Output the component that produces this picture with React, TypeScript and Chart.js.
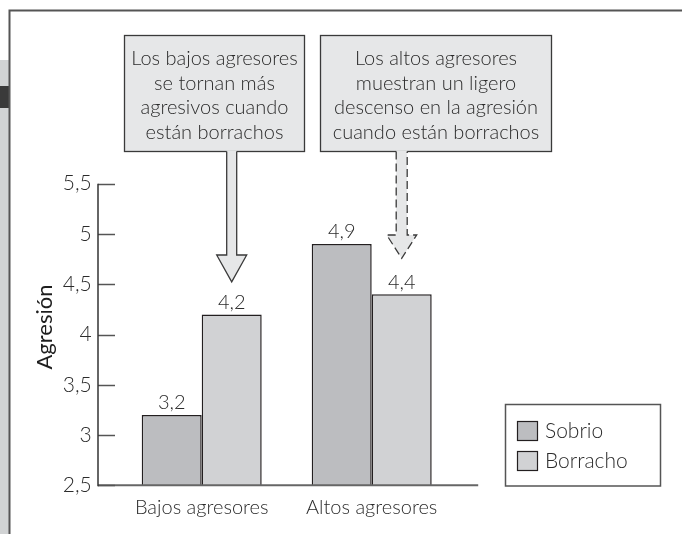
import React, { useEffect, useRef } from 'react';
import { Chart, registerables } from 'chart.js';

Chart.register(...registerables);

const categories = ['Bajos agresores', 'Altos agresores'];
const seriesNames = ['Sobrio', 'Borracho'];
const sobrioValues = [3.2, 4.9];
const borrachoValues = [4.2, 4.4];
const yTickValues = [2.5, 3, 3.5, 4, 4.5, 5, 5.5];
const yTitle = 'Agresión';
const callout1 = ['Los bajos agresores', 'se tornan más', 'agresivos cuando', 'están borrachos'];
const callout2 = ['Los altos agresores', 'muestran un ligero', 'descenso en la agresión', 'cuando están borrachos'];

const FONT = "Lato, 'Open Sans', 'DejaVu Sans', sans-serif";
const TEXT = '#2b2b2b';
const fmt = (v: number) => String(v).replace('.', ',');

function drawCallout(ctx: CanvasRenderingContext2D, lines: string[], x1: number, x2: number, y1: number, y2: number, lineY0: number, lineGap: number) {
  ctx.save();
  ctx.fillStyle = '#e6e7e8';
  ctx.fillRect(x1, y1, x2 - x1, y2 - y1);
  ctx.strokeStyle = '#3a3a3a';
  ctx.lineWidth = 1.3;
  ctx.strokeRect(x1, y1, x2 - x1, y2 - y1);
  ctx.fillStyle = TEXT;
  ctx.font = `300 20px ${FONT}`;
  ctx.textAlign = 'center';
  ctx.textBaseline = 'middle';
  const cx = (x1 + x2) / 2;
  lines.forEach((l, i) => ctx.fillText(l, cx, lineY0 + i * lineGap));
  ctx.restore();
}

function drawArrow(ctx: CanvasRenderingContext2D, cx: number, top: number, shaftBottom: number, tip: number, shaftW: number, headW: number, dashed: boolean) {
  ctx.save();
  ctx.fillStyle = '#e6e7e8';
  ctx.beginPath();
  ctx.moveTo(cx - shaftW / 2, top - 1);
  ctx.lineTo(cx - shaftW / 2, shaftBottom);
  ctx.lineTo(cx - headW / 2, shaftBottom);
  ctx.lineTo(cx, tip);
  ctx.lineTo(cx + headW / 2, shaftBottom);
  ctx.lineTo(cx + shaftW / 2, shaftBottom);
  ctx.lineTo(cx + shaftW / 2, top - 1);
  ctx.closePath();
  ctx.fill();
  ctx.beginPath();
  ctx.moveTo(cx - shaftW / 2, top);
  ctx.lineTo(cx - shaftW / 2, shaftBottom);
  ctx.lineTo(cx - headW / 2, shaftBottom);
  ctx.lineTo(cx, tip);
  ctx.lineTo(cx + headW / 2, shaftBottom);
  ctx.lineTo(cx + shaftW / 2, shaftBottom);
  ctx.lineTo(cx + shaftW / 2, top);
  ctx.strokeStyle = '#3a3a3a';
  ctx.lineWidth = 1.3;
  if (dashed) ctx.setLineDash([8, 4]);
  ctx.stroke();
  ctx.restore();
}

const decorPlugin = {
  id: 'decor',
  beforeDraw(chart: any) {
    const ctx = chart.ctx as CanvasRenderingContext2D;
    ctx.save();
    ctx.fillStyle = '#d1d3d4';
    ctx.fillRect(0, 60, 9, chart.height - 60);
    ctx.fillStyle = '#3a3a3a';
    ctx.fillRect(0, 86, 9, 22);
    ctx.strokeStyle = '#555555';
    ctx.lineWidth = 2;
    ctx.beginPath();
    ctx.moveTo(9.5, chart.height);
    ctx.lineTo(9.5, 10.5);
    ctx.lineTo(chart.width, 10.5);
    ctx.stroke();
    ctx.restore();
  },
  afterDatasetsDraw(chart: any) {
    const ctx = chart.ctx as CanvasRenderingContext2D;
    const area = chart.chartArea;
    const y = chart.scales.y;
    const axisX = area.left - 18.7;
    ctx.save();
    ctx.strokeStyle = '#666666';
    ctx.lineWidth = 2;
    ctx.beginPath();
    ctx.moveTo(axisX, area.bottom);
    ctx.lineTo(area.right + 21.5, area.bottom);
    ctx.stroke();
    ctx.strokeStyle = '#555555';
    ctx.lineWidth = 1.5;
    y.ticks.forEach((t: any) => {
      const py = Math.round(y.getPixelForValue(t.value)) + 0.5;
      ctx.beginPath();
      ctx.moveTo(axisX, py);
      ctx.lineTo(axisX + 17, py);
      ctx.stroke();
    });
    ctx.strokeStyle = '#333333';
    ctx.lineWidth = 1.5;
    ctx.beginPath();
    ctx.moveTo(axisX, y.getPixelForValue(y.max));
    ctx.lineTo(axisX, area.bottom + 1);
    ctx.stroke();
    ctx.fillStyle = '#1e1e1e';
    ctx.font = `400 22px ${FONT}`;
    ctx.textAlign = 'center';
    ctx.textBaseline = 'middle';
    ctx.translate(45, 327);
    ctx.rotate(-Math.PI / 2);
    ctx.fillText(yTitle, 0, 0);
    ctx.restore();

    ctx.save();
    ctx.fillStyle = TEXT;
    ctx.font = `300 20px ${FONT}`;
    ctx.textAlign = 'center';
    ctx.textBaseline = 'middle';
    chart.data.datasets.forEach((ds: any, di: number) => {
      const meta = chart.getDatasetMeta(di);
      meta.data.forEach((bar: any, i: number) => {
        ctx.fillText(fmt(ds.data[i]), bar.x, bar.y - 12);
      });
    });
    ctx.restore();
  },
  afterDraw(chart: any) {
    const ctx = chart.ctx as CanvasRenderingContext2D;
    const y = chart.scales.y;
    const meta1 = chart.getDatasetMeta(1);
    const b0 = meta1.data[0];
    const b1 = meta1.data[1];
    const boxTop = 35.5;
    const boxBottom = 151.5;
    drawCallout(ctx, callout1, 124.5, 304.5, boxTop, boxBottom, 59, 24.5);
    drawCallout(ctx, callout2, 320.5, 551.5, boxTop, boxBottom, 59, 24.5);
    drawArrow(ctx, b0.x, boxBottom, 255, y.getPixelForValue(borrachoValues[0]) - 32.5, 10, 30, false);
    drawArrow(ctx, b1.x, boxBottom, 235, y.getPixelForValue(borrachoValues[1]) - 36, 11, 30, true);

    ctx.save();
    ctx.strokeStyle = '#555555';
    ctx.lineWidth = 1.5;
    ctx.strokeRect(505.5, 404.5, 155, 81.5);
    ctx.font = `300 21px ${FONT}`;
    ctx.textAlign = 'left';
    ctx.textBaseline = 'middle';
    chart.data.datasets.forEach((ds: any, i: number) => {
      const sy = 421 + i * 30;
      ctx.fillStyle = ds.backgroundColor;
      ctx.fillRect(517, sy, 21, 20);
      ctx.strokeStyle = '#231f20';
      ctx.lineWidth = 1.2;
      ctx.strokeRect(517.5, sy + 0.5, 20, 19);
      ctx.fillStyle = TEXT;
      ctx.fillText(ds.label, 545, sy + 10.5);
    });
    ctx.restore();
  },
};

export default function App() {
  const ref = useRef<HTMLCanvasElement | null>(null);
  useEffect(() => {
    document.body.style.margin = '0';
    const canvas = ref.current;
    if (!canvas) return;
    const chart = new Chart(canvas, {
      type: 'bar',
      data: {
        labels: categories,
        datasets: [
          {
            label: seriesNames[0],
            data: sobrioValues,
            backgroundColor: '#bcbdc0',
            borderColor: '#231f20',
            borderWidth: 1.5,
            categoryPercentage: 120 / 170,
            barPercentage: 1,
          },
          {
            label: seriesNames[1],
            data: borrachoValues,
            backgroundColor: '#d1d2d4',
            borderColor: '#231f20',
            borderWidth: 1.5,
            categoryPercentage: 120 / 170,
            barPercentage: 1,
          },
        ],
      },
      options: {
        animation: false,
        responsive: false,
        devicePixelRatio: 1,
        layout: { padding: { left: 0, top: 183.7, right: 682 - 456.7, bottom: 0 } },
        plugins: { legend: { display: false }, tooltip: { enabled: false } },
        scales: {
          x: {
            grid: { display: false, drawTicks: false },
            border: { display: false },
            ticks: { color: TEXT, font: { family: FONT, size: 20, weight: '300' }, padding: 10, maxRotation: 0 },
            afterFit: (s: any) => { s.height = 534 - 485.3; },
          },
          y: {
            min: 2.5,
            max: 5.5,
            afterBuildTicks: (s: any) => { s.ticks = yTickValues.map((v) => ({ value: v })); },
            grid: { drawOnChartArea: false, drawTicks: true, tickLength: 18, tickColor: 'rgba(0,0,0,0)' },
            border: { display: false },
            ticks: { color: TEXT, font: { family: FONT, size: 21, weight: '300' }, padding: 7, callback: (v: any) => fmt(Number(v)) },
            afterFit: (s: any) => { s.width = 116.7; },
          },
        },
      },
      plugins: [decorPlugin],
    } as any);
    return () => chart.destroy();
  }, []);
  return <canvas ref={ref} width={682} height={534} style={{ display: 'block' }} />;
}
